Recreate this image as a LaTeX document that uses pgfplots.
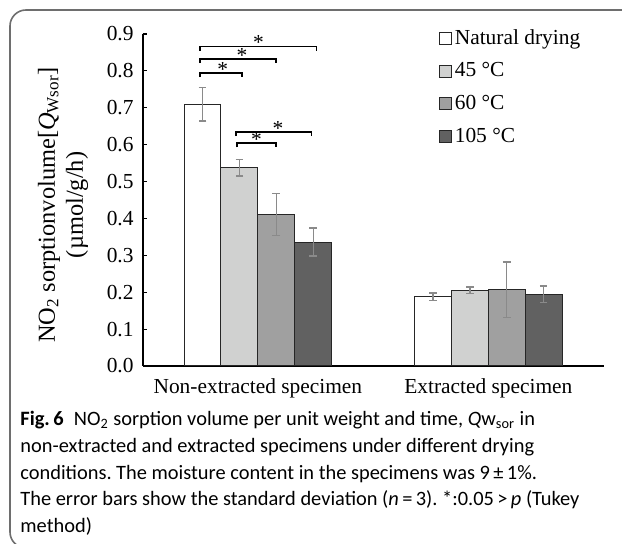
\documentclass[border=0pt]{standalone}
\usepackage{fontspec}
\setmainfont{Liberation Serif}
\newfontfamily\capfont{Carlito}
\usepackage{pgfplots}
\usepackage{pgfplotstable}
\pgfplotsset{compat=1.18}

\definecolor{framegray}{HTML}{6E6E6E}
\definecolor{barlight}{HTML}{D0D1D0}
\definecolor{barmid}{HTML}{A0A0A0}
\definecolor{bardark}{HTML}{616161}
\definecolor{errgray}{HTML}{8A8A8A}

% x: 0 = non-extracted, 1 = extracted
\pgfplotstableread{
x y e
0 0.710 0.046
1 0.188 0.010
}\natural
\pgfplotstableread{
x y e
0 0.537 0.022
1 0.205 0.009
}\fortyfive
\pgfplotstableread{
x y e
0 0.411 0.057
1 0.207 0.075
}\sixty
\pgfplotstableread{
x y e
0 0.336 0.038
1 0.195 0.022
}\hundredfive

\pgfplotsset{
  sq/.style={legend image code/.code={\draw[##1,line width=0.5pt,draw=black!85] (0pt,-3pt) rectangle (6pt,3pt);}},
  errs/.style={error bars/.cd,y dir=both,y explicit,
    error bar style={errgray,line width=0.6pt},
    error mark options={errgray,rotate=90,mark size=1.9pt,line width=0.6pt}},
}
\newcommand{\lbl}{\fontsize{10.7}{12}\selectfont}
\newcommand{\brk}[4]{% from, to, height, star x
  \draw[black,line width=0.7pt] (axis cs:#1,#3-0.011) -- (axis cs:#1,#3) -- (axis cs:#2,#3) -- (axis cs:#2,#3-0.011);
  \node[font=\lbl,anchor=base,inner sep=0pt] at (axis cs:#4,#3-0.008) {*};}

\begin{document}
\frenchspacing
\begin{tikzpicture}
\useasboundingbox (0,0) rectangle (311pt,272pt);
\clip (0,0) rectangle (311pt,272pt);
\draw[framegray,line width=0.8pt,rounded corners=8pt] (330pt,-2pt) -- (5pt,-2pt) -- (5pt,267pt) -- (330pt,267pt);

\begin{axis}[at={(71.3pt,89pt)},anchor=south west,scale only axis,
  width=230.5pt,height=166pt,
  ybar,bar width=0.16,
  xmin=-0.5,xmax=1.5,ymin=0,ymax=0.9,
  axis x line=bottom,axis y line=left,
  axis line style={-,line width=1pt,black},
  ytick={0,0.1,0.2,0.3,0.4,0.5,0.6,0.7,0.8,0.9},
  tick label style={font=\lbl},
  yticklabel style={xshift=-1pt,/pgf/number format/fixed,/pgf/number format/fixed zerofill,
    /pgf/number format/precision=1,/pgf/number format/assume math mode=true},
  tick align=inside,major tick length=2pt,
  y tick style={black,line width=0.6pt},
  xtick={0,1},xticklabels={Non-extracted specimen,Extracted specimen},
  x tick style={draw=none},
  xticklabel style={yshift=-3pt},
  legend style={at={(0.643,1.022)},anchor=north west,draw=none,fill=none,
    font=\lbl,row sep=5.3pt,inner sep=0pt,
    nodes={inner sep=1.2pt}},
  legend cell align=left,
  clip=false,
]
\addplot[bar shift=-0.24,fill=white,draw=black!85,line width=0.5pt,sq,errs]
  table[x=x,y=y,y error=e] {\natural};
\addlegendentry{Natural drying}
\addplot[bar shift=-0.08,fill=barlight,draw=black!85,line width=0.5pt,sq,errs]
  table[x=x,y=y,y error=e] {\fortyfive};
\addlegendentry{45 °C}
\addplot[bar shift=0.08,fill=barmid,draw=black!85,line width=0.5pt,sq,errs]
  table[x=x,y=y,y error=e] {\sixty};
\addlegendentry{60 °C}
\addplot[bar shift=0.24,fill=bardark,draw=black!85,line width=0.5pt,sq,errs]
  table[x=x,y=y,y error=e] {\hundredfive};
\addlegendentry{105 °C}

% significance brackets (Tukey)
\brk{-0.251}{0.255}{0.866}{0.003}
\brk{-0.251}{0.078}{0.832}{-0.069}
\brk{-0.251}{-0.069}{0.794}{-0.152}
\brk{-0.095}{0.234}{0.634}{0.087}
\brk{-0.091}{0.078}{0.604}{-0.006}
\end{axis}

\node[rotate=90,align=center,font=\fontsize{12.2}{14}\selectfont] at (31.5pt,169.5pt)
  {NO\textsubscript{2} sorptionvolume[\textit{Q}\textsubscript{Wsor}]\\(µmol/g/h)};

\node[anchor=north west,inner sep=0pt,align=left,
  font=\capfont\fontsize{10.2}{13.35}\selectfont] at (10pt,66.5pt)
  {\textbf{Fig.\,6}\enspace NO\textsubscript{2} sorption volume per unit weight and time, \textit{Q}w\textsubscript{sor} in\\
   non-extracted and extracted specimens under different drying\\
   conditions. The moisture content in the specimens was 9\,±\,1\%.\\
   The error bars show the standard deviation (\textit{n}\,=\,3). *:0.05\,>\,\textit{p} (Tukey\\
   method)};
\end{tikzpicture}
\end{document}
